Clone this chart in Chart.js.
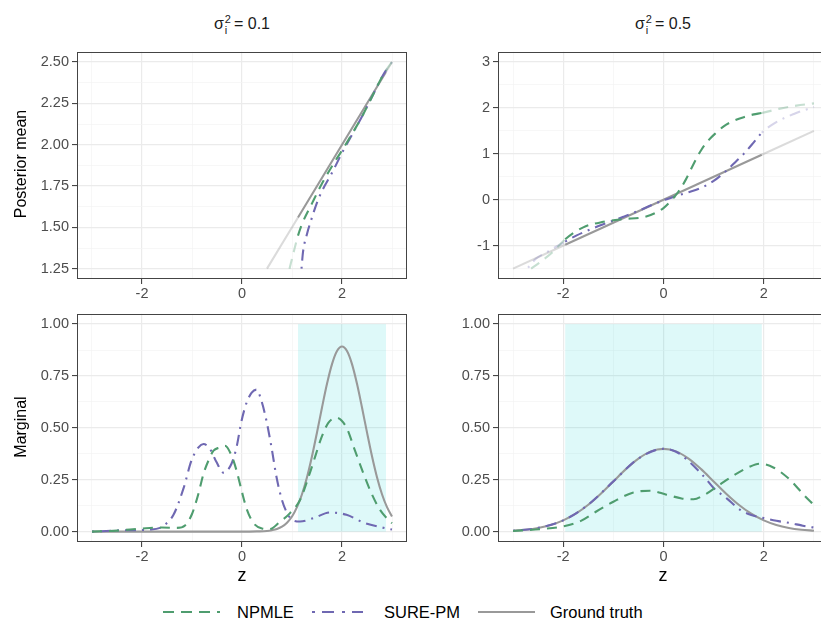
<!DOCTYPE html>
<html><head><meta charset="utf-8">
<script src="https://cdn.jsdelivr.net/npm/chart.js@4.4.1/dist/chart.umd.min.js"></script>
<style>
html,body{margin:0;padding:0;width:821px;height:625px;overflow:hidden;background:#fff;font-family:"Liberation Sans",Arial,sans-serif;}
canvas{position:absolute;}
.t{position:absolute;white-space:nowrap;color:#1a1a1a;}
.strip{font-size:16px;width:200px;text-align:center;top:13px;height:22px;line-height:22px;}
.ss{display:inline-flex;flex-direction:column;vertical-align:middle;font-size:11px;line-height:11px;margin:0 3px 0 1px;text-align:left;}
.ytitle{font-size:16px;color:#000;transform:translate(-50%,-50%) rotate(-90deg);}
.xtitle{font-size:18px;color:#000;transform:translate(-50%,-50%);}
.leg{font-size:16.5px;color:#000;transform:translateY(-50%);}
svg{position:absolute;}
</style></head><body>

<canvas id="tl" width="412" height="264" style="left:0;top:40px"></canvas>
<canvas id="tr" width="413" height="264" style="left:421px;top:40px"></canvas>
<canvas id="bl" width="412" height="265" style="left:0;top:302px"></canvas>
<canvas id="br" width="413" height="265" style="left:421px;top:302px"></canvas>

<div class="t strip" style="left:142px">σ<span class="ss"><span>2</span><span>i</span></span>= 0.1</div>
<div class="t strip" style="left:563px">σ<span class="ss"><span>2</span><span>i</span></span>= 0.5</div>

<div class="t ytitle" style="left:21px;top:164px">Posterior mean</div>
<div class="t ytitle" style="left:21px;top:427px">Marginal</div>
<div class="t xtitle" style="left:242px;top:575px">z</div>
<div class="t xtitle" style="left:663px;top:575px">z</div>

<svg width="821" height="30" style="left:0;top:597px">
  <line x1="163" y1="15" x2="220" y2="15" stroke="#4F9D6F" stroke-width="2.2" stroke-dasharray="11 7"/>
  <line x1="312" y1="15" x2="363" y2="15" stroke="#6F68B2" stroke-width="2.2" stroke-dasharray="3 7 12 8"/>
  <line x1="478" y1="15" x2="535" y2="15" stroke="#999999" stroke-width="2.2"/>
</svg>
<div class="t leg" style="left:237px;top:612px">NPMLE</div>
<div class="t leg" style="left:384px;top:612px">SURE-PM</div>
<div class="t leg" style="left:550px;top:612px">Ground truth</div>

<script>
// ---------- tick values / labels ----------
const zMajorTicks = [-2, 0, 2];
const zMinorTicks = [-3, -1, 1, 3];
const zTickLabels = ['-2', '0', '2'];

const tlYMajor = [1.25, 1.5, 1.75, 2.0, 2.25, 2.5];
const tlYMinor = [1.375, 1.625, 1.875, 2.125, 2.375];
const tlYLabels = ['1.25', '1.50', '1.75', '2.00', '2.25', '2.50'];

const trYMajor = [-1, 0, 1, 2, 3];
const trYMinor = [-1.5, -0.5, 0.5, 1.5, 2.5];
const trYLabels = ['-1', '0', '1', '2', '3'];

const bYMajor = [0, 0.25, 0.5, 0.75, 1.0];
const bYMinor = [0.125, 0.375, 0.625, 0.875];
const bYLabels = ['0.00', '0.25', '0.50', '0.75', '1.00'];

// ---------- credible regions ----------
const regionLeft = [1.12, 2.88];
const regionRight = [-1.96, 1.96];

// ---------- top-left: posterior mean, sigma^2 = 0.1 ----------
const tlTruthZ = [0.5, 1.12, 2.88, 3.0];
const tlTruthV = [1.25, 1.56, 2.44, 2.5];
const tlNpmleZ = [0.95, 1.05, 1.12, 1.2, 1.4, 1.6, 1.8, 2.0, 2.2, 2.4, 2.6, 2.8, 2.88, 3.0];
const tlNpmleV = [1.25, 1.37, 1.45, 1.52, 1.645, 1.765, 1.87, 1.965, 2.065, 2.17, 2.29, 2.41, 2.45, 2.50];
const tlSureZ = [1.19, 1.22, 1.3, 1.4, 1.5, 1.6, 1.8, 2.0, 2.2, 2.4, 2.6, 2.8, 2.88, 3.0];
const tlSureV = [1.25, 1.35, 1.46, 1.56, 1.65, 1.72, 1.83, 1.95, 2.06, 2.17, 2.29, 2.41, 2.45, 2.50];

// ---------- top-right: posterior mean, sigma^2 = 0.5 ----------
const trTruthZ = [-3.0, -1.96, 1.96, 3.0];
const trTruthV = [-1.5, -0.98, 0.98, 1.5];
const trNpmleZ = [-2.64, -2.45, -2.2, -1.96, -1.6, -1.2, -0.8, -0.4, -0.15, 0, 0.15, 0.3, 0.45, 0.6, 0.75, 0.9, 1.05, 1.2, 1.4, 1.6, 1.8, 1.96, 2.3, 2.65, 3.0];
const trNpmleV = [-1.50, -1.35, -1.13, -0.86, -0.60, -0.48, -0.42, -0.38, -0.28, -0.18, -0.02, 0.18, 0.45, 0.78, 1.08, 1.30, 1.46, 1.60, 1.72, 1.80, 1.86, 1.89, 1.98, 2.05, 2.10];
const trSureZ = [-2.7, -2.54, -2.34, -1.96, -1.74, -1.4, -1.14, -0.8, -0.5, -0.27, 0, 0.2, 0.45, 0.73, 1.0, 1.26, 1.45, 1.6, 1.8, 1.96, 2.2, 2.6, 3.0];
const trSureV = [-1.48, -1.28, -1.15, -0.91, -0.78, -0.62, -0.51, -0.37, -0.24, -0.13, -0.01, 0.06, 0.15, 0.25, 0.41, 0.64, 0.84, 1.00, 1.25, 1.46, 1.66, 1.87, 2.02];

// ---------- bottom-left: marginal, sigma^2 = 0.1 ----------
const blTruthZ = [-3.0, -2.0, -1.0, 0.0, 0.3, 0.5, 0.6, 0.7, 0.8, 0.9, 1.0, 1.1, 1.2, 1.3, 1.4, 1.5, 1.6, 1.7, 1.8, 1.9, 2.0, 2.1, 2.2, 2.3, 2.4, 2.5, 2.6, 2.7, 2.8, 2.9, 3.0];
const blTruthV = [0, 0, 0, 0, 0.001, 0.003, 0.007, 0.013, 0.024, 0.043, 0.073, 0.118, 0.180, 0.262, 0.363, 0.478, 0.598, 0.712, 0.807, 0.870, 0.892, 0.870, 0.807, 0.712, 0.598, 0.478, 0.363, 0.262, 0.180, 0.118, 0.073];
const blNpmleZ = [-3.0, -2.5, -2.0, -1.6, -1.3, -1.14, -1.0, -0.87, -0.77, -0.67, -0.57, -0.45, -0.34, -0.21, -0.11, 0.0, 0.1, 0.23, 0.4, 0.55, 0.75, 0.96, 1.16, 1.33, 1.46, 1.59, 1.73, 1.89, 2.09, 2.26, 2.43, 2.59, 2.76, 2.96, 3.0];
const blNpmleV = [0.0, 0.005, 0.015, 0.02, 0.018, 0.03, 0.085, 0.184, 0.279, 0.343, 0.39, 0.405, 0.414, 0.367, 0.295, 0.19, 0.105, 0.041, 0.015, 0.012, 0.045, 0.089, 0.152, 0.263, 0.359, 0.454, 0.525, 0.549, 0.501, 0.39, 0.279, 0.184, 0.105, 0.049, 0.04];
const blSureZ = [-3.0, -2.44, -1.84, -1.64, -1.54, -1.37, -1.17, -1.01, -0.87, -0.77, -0.64, -0.51, -0.37, -0.21, -0.11, -0.01, 0.09, 0.19, 0.29, 0.39, 0.49, 0.59, 0.69, 0.79, 0.88, 0.99, 1.16, 1.43, 1.76, 2.09, 2.43, 2.76, 3.0];
const blSureV = [0.0, 0.006, 0.01, 0.018, 0.033, 0.081, 0.208, 0.343, 0.406, 0.422, 0.398, 0.335, 0.284, 0.327, 0.406, 0.533, 0.62, 0.668, 0.684, 0.629, 0.533, 0.406, 0.263, 0.16, 0.1, 0.06, 0.049, 0.065, 0.092, 0.081, 0.044, 0.022, 0.01];

// ---------- bottom-right: marginal, sigma^2 = 0.5 ----------
const brTruthZ = [-3.0, -2.75, -2.5, -2.25, -2.0, -1.75, -1.5, -1.25, -1.0, -0.75, -0.5, -0.25, 0.0, 0.25, 0.5, 0.75, 1.0, 1.25, 1.5, 1.75, 2.0, 2.25, 2.5, 2.75, 3.0];
const brTruthV = [0.0044, 0.0091, 0.0175, 0.0317, 0.054, 0.0863, 0.1295, 0.1826, 0.242, 0.3011, 0.3521, 0.3867, 0.3989, 0.3867, 0.3521, 0.3011, 0.242, 0.1826, 0.1295, 0.0863, 0.054, 0.0317, 0.0175, 0.0091, 0.0044];
const brNpmleZ = [-3.0, -2.4, -2.0, -1.67, -1.34, -1.0, -0.6, -0.27, 0.06, 0.36, 0.6, 0.8, 1.06, 1.4, 1.73, 1.93, 2.2, 2.53, 2.8, 3.0];
const brNpmleV = [0.003, 0.013, 0.025, 0.049, 0.097, 0.144, 0.189, 0.197, 0.178, 0.16, 0.156, 0.175, 0.216, 0.271, 0.314, 0.327, 0.308, 0.248, 0.176, 0.128];
const brSureZ = [-3.0, -2.5, -2.0, -1.5, -1.0, -0.5, 0.0, 0.25, 0.5, 0.75, 0.86, 1.0, 1.26, 1.53, 1.75, 2.0, 2.25, 2.53, 2.75, 2.93, 3.0];
const brSureV = [0.004, 0.018, 0.054, 0.13, 0.242, 0.352, 0.399, 0.385, 0.34, 0.28, 0.25, 0.21, 0.16, 0.105, 0.08, 0.065, 0.052, 0.041, 0.03, 0.022, 0.02];

// ---------- styles ----------
const FONT = '"Liberation Sans", Arial, sans-serif';
const COL = {
  npmle: '#4F9D6F', npmleF: 'rgba(79,157,111,0.32)',
  sure: '#6F68B2', sureF: 'rgba(111,104,178,0.28)',
  truth: '#999999', truthF: 'rgba(153,153,153,0.35)'
};
const DASH = { npmle: [10, 7], sure: [2, 6, 11, 6], truth: [] };

function pts(xs, ys) { return xs.map((x, i) => ({ x: x, y: ys[i] })); }

function series(xs, ys, key, fadeRegion) {
  const full = COL[key], faded = COL[key + 'F'];
  const ds = {
    data: pts(xs, ys), showLine: true, pointRadius: 0, borderWidth: 2.1,
    borderColor: full, borderDash: DASH[key], cubicInterpolationMode: 'monotone',
    fill: false, order: key === 'truth' ? 3 : (key === 'sure' ? 2 : 1)
  };
  if (fadeRegion) {
    ds.segment = {
      borderColor: ctx => (ctx.p0.parsed.x >= fadeRegion[0] - 1e-6 && ctx.p1.parsed.x <= fadeRegion[1] + 1e-6) ? full : faded
    };
  }
  return ds;
}

function near(arr, v) { return arr.findIndex(m => Math.abs(m - v) < 1e-9); }

function axis(majors, minors, labels, min, max, isX) {
  const all = majors.concat(minors).sort((a, b) => a - b);
  return {
    type: 'linear', min: min, max: max,
    afterBuildTicks: a => { a.ticks = all.map(v => ({ value: v })); },
    afterFit: a => { if (isX) a.height = 25; else a.width = 77; },
    grid: {
      color: c => (c.tick && near(majors, c.tick.value) >= 0) ? '#EBEBEB' : '#F4F4F4',
      lineWidth: c => (c.tick && near(majors, c.tick.value) >= 0) ? 1.2 : 0.7,
      tickColor: c => (c.tick && near(majors, c.tick.value) >= 0) ? '#333333' : 'rgba(0,0,0,0)',
      tickWidth: 1, tickLength: 5, drawTicks: true
    },
    border: { display: false },
    ticks: {
      autoSkip: false, maxRotation: 0, minRotation: 0, padding: isX ? 1 : 3,
      color: '#4D4D4D', font: { family: FONT, size: 14.5 },
      callback: v => { const i = near(majors, v); return i >= 0 ? labels[i] : ''; }
    }
  };
}

function panelPlugin(shade) {
  return {
    id: 'panel',
    beforeDatasetsDraw(chart) {
      if (!shade) return;
      const { ctx, scales: { x, y } } = chart;
      const x0 = x.getPixelForValue(shade[0]), x1 = x.getPixelForValue(shade[1]);
      const y0 = y.getPixelForValue(1), y1 = y.getPixelForValue(0);
      ctx.save();
      ctx.fillStyle = 'rgba(0,206,209,0.13)';
      ctx.fillRect(x0, y0, x1 - x0, y1 - y0);
      ctx.restore();
    },
    afterDraw(chart) {
      const { ctx, chartArea: a } = chart;
      ctx.save();
      ctx.strokeStyle = '#444444';
      ctx.lineWidth = 1;
      ctx.strokeRect(Math.round(a.left) + 0.5, Math.round(a.top) + 0.5, Math.round(a.right - a.left) - 1, Math.round(a.bottom - a.top) - 1);
      ctx.restore();
    }
  };
}

function panel(id, datasets, yAxis, shade) {
  new Chart(document.getElementById(id), {
    type: 'scatter',
    data: { datasets: datasets },
    options: {
      responsive: false, animation: false, devicePixelRatio: 1,
      layout: { padding: { top: 9, right: 5, left: 0, bottom: 0 } },
      plugins: { legend: { display: false }, tooltip: { enabled: false } },
      scales: { x: axis(zMajorTicks, zMinorTicks, zTickLabels, -3.3, 3.3, true), y: yAxis }
    },
    plugins: [panelPlugin(shade)]
  });
}

panel('tl', [
  series(tlTruthZ, tlTruthV, 'truth', regionLeft),
  series(tlSureZ, tlSureV, 'sure', regionLeft),
  series(tlNpmleZ, tlNpmleV, 'npmle', regionLeft)
], axis(tlYMajor, tlYMinor, tlYLabels, 1.1875, 2.5625, false), null);

panel('tr', [
  series(trTruthZ, trTruthV, 'truth', regionRight),
  series(trSureZ, trSureV, 'sure', regionRight),
  series(trNpmleZ, trNpmleV, 'npmle', regionRight)
], axis(trYMajor, trYMinor, trYLabels, -1.725, 3.225, false), null);

panel('bl', [
  series(blTruthZ, blTruthV, 'truth', null),
  series(blSureZ, blSureV, 'sure', null),
  series(blNpmleZ, blNpmleV, 'npmle', null)
], axis(bYMajor, bYMinor, bYLabels, -0.05, 1.05, false), regionLeft);

panel('br', [
  series(brTruthZ, brTruthV, 'truth', null),
  series(brSureZ, brSureV, 'sure', null),
  series(brNpmleZ, brNpmleV, 'npmle', null)
], axis(bYMajor, bYMinor, bYLabels, -0.05, 1.05, false), regionRight);
</script>
</body></html>
